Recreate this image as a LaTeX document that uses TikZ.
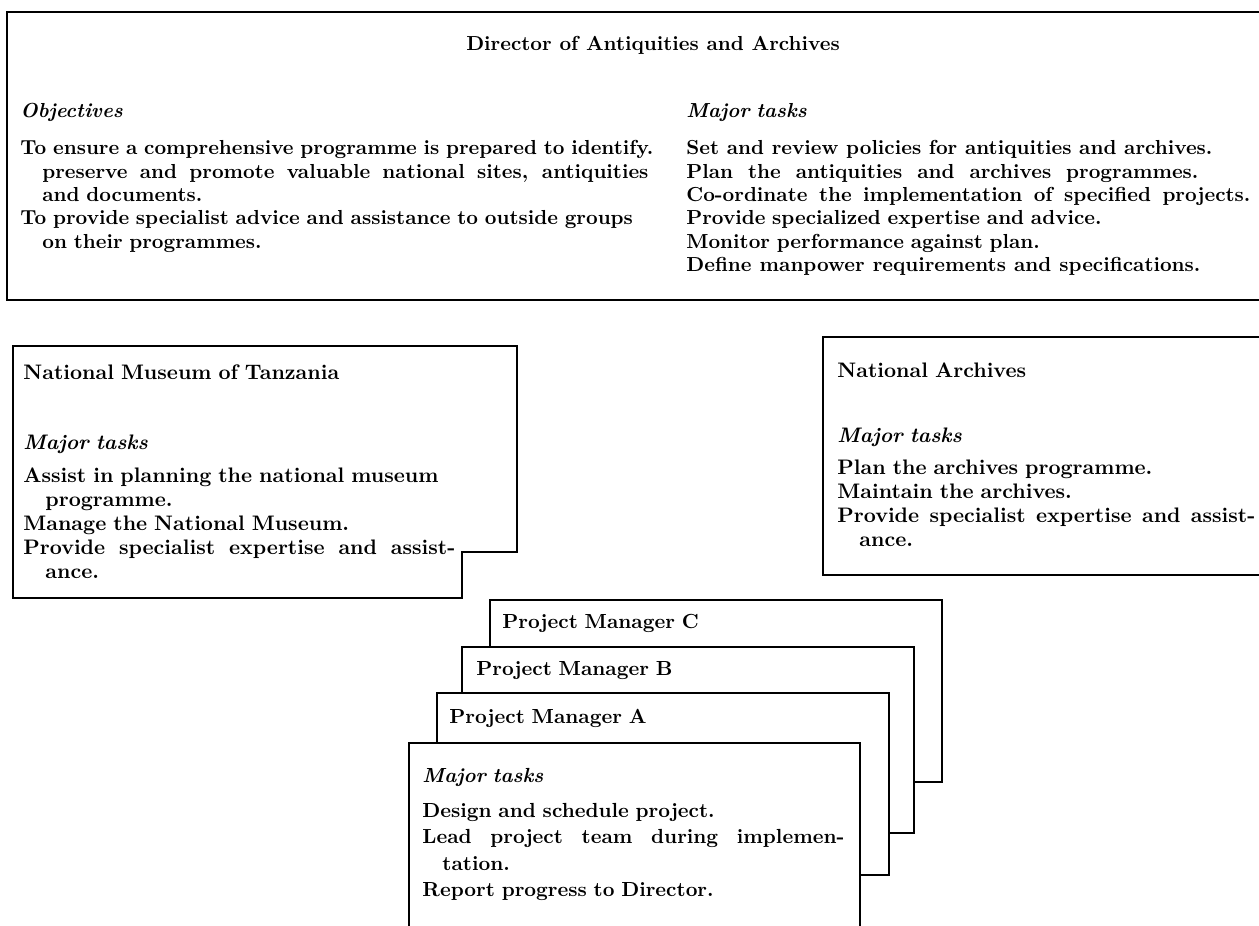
\documentclass[tikz,border=0pt]{standalone}
\usepackage{fontspec}
\usepackage{tikz}
\usetikzlibrary{positioning,calc}
\newcommand{\orgfont}{\fontsize{10.15}{11.75}\selectfont\bfseries}
\newcommand{\unitfont}{\fontsize{10.5}{12}\selectfont\bfseries}
\newcommand{\pmfont}{\fontsize{10.2}{13.25}\selectfont\bfseries}
% a line whose word spaces are stretched to a given width
\newcommand{\spreadline}[2]{\leavevmode\hbox to #1{\spaceskip=.3333em plus 1fil\relax #2}}

\begin{document}
\begin{tikzpicture}[x=0.5pt,y=-0.5pt,
    orgbox/.style={draw, line width=1.1pt, fill=white},
    blk/.style={anchor=base west, inner sep=0pt, align=left, text width=330pt, font=\orgfont}]
  \useasboundingbox (0,0) rectangle (1259,926);
  \clip (0,0) rectangle (1259,926);

  % director
  \draw[orgbox] (7,12) rectangle (1290,300);
  \node[anchor=base, inner sep=0pt, font=\orgfont] (dir) at (653,50) {Director of Antiquities and Archives};
  \node[blk] (obj) at (20,117) {
    \textit{Objectives}\\[7pt]
    To ensure a comprehensive programme is prepared to identify.\\
    \hspace*{11pt}\spreadline{303pt}{preserve and promote valuable national sites, antiquities}\\
    \hspace*{11pt}and documents.\\
    To provide specialist advice and assistance to outside groups\\
    \hspace*{11pt}on their programmes.
  };
  \node[blk, text width=300pt] (dirtasks) at (686,117) {
    \textit{Major tasks}\\[7pt]
    \spreadline{263pt}{Set and review policies for antiquities and archives.}\\
    \spreadline{256pt}{Plan the antiquities and archives programmes.}\\
    \spreadline{282pt}{Co-ordinate the implementation of specified projects.}\\
    Provide specialized expertise and advice.\\
    Monitor performance against plan.\\
    \spreadline{257pt}{Define manpower requirements and specifications.}
  };

  % museum
  \draw[orgbox] (13,346) -- (517,346) -- (517,552) -- (462,552) -- (462,598) -- (13,598) -- cycle;
  \node[blk, font=\unitfont] (mus) at (23,379) {National Museum of Tanzania};
  \node[blk, font=\unitfont] (mustasks) at (23,449) {
    \textit{Major tasks}\\[4.5pt]
    Assist in planning the national museum\\
    \hspace*{11pt}programme.\\
    Manage the National Museum.\\
    \spreadline{216pt}{Provide specialist expertise and assist-}\\
    \hspace*{11pt}ance.
  };

  % archives
  \draw[orgbox] (823,337) rectangle (1290,575);
  \node[blk, font=\unitfont] (arc) at (837,377) {National Archives};
  \node[blk, font=\unitfont] (arctasks) at (837,442) {
    \textit{Major tasks}\\[4.25pt]
    Plan the archives programme.\\
    Maintain the archives.\\
    \spreadline{209pt}{Provide specialist expertise and assist-}\\
    \hspace*{11pt}ance.
  };

  % project managers
  \draw[orgbox] (490,600) rectangle (942,782);
  \node[blk, font=\pmfont] (pmc) at (502,628) {Project Manager C};
  \draw[orgbox] (462,647) rectangle (914,833);
  \node[blk, font=\pmfont] (pmb) at (476,675) {Project Manager B};
  \draw[orgbox] (437,693) rectangle (889,875);
  \node[blk, font=\pmfont] (pma) at (449,723) {Project Manager A};
  \draw[orgbox] (409,743) rectangle (860,950);
  \node[blk, font=\pmfont] (pmtasks) at (422,782) {
    \textit{Major tasks}\\[4.25pt]
    Design and schedule project.\\
    \spreadline{211pt}{Lead project team during implemen-}\\
    \hspace*{10pt}tation.\\
    Report progress to Director.
  };
\end{tikzpicture}
\end{document}
